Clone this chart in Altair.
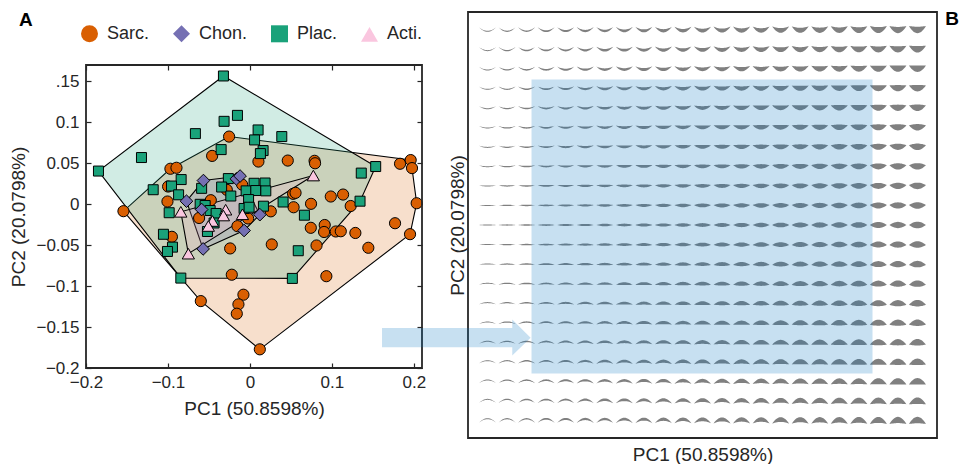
import altair as alt
import pandas as pd

FONT = "Liberation Sans"
INK = "#262626"

# ---------------- Panel A data ----------------
GROUPS = ["Sarc.", "Chon.", "Plac.", "Acti."]
FILLS = ["#d95f02", "#7570b3", "#1aa27a", "#fac6df"]
SHAPES = ["circle", "diamond", "square", "triangle-up"]
MARK_SIZE = {"Sarc.": 125, "Chon.": 160, "Plac.": 100, "Acti.": 150}

SARC_PC1 = [-0.0254, -0.0461, -0.0970, -0.0896, 0.0104, 0.0462, 0.0789, 0.0795, 0.1832, 0.1962,
            0.1978, -0.1543, -0.0998, -0.1006, -0.0477, -0.0282, -0.0095, -0.0620, -0.0152, -0.0022,
            0.0255, 0.0527, 0.0557, 0.0987, 0.1137, 0.0533, 0.0746, 0.1230, 0.2035, 0.1771,
            0.1954, 0.0743, 0.0913, 0.0905, 0.1048, 0.1109, 0.1287, 0.0267, 0.0813, 0.1445,
            -0.0241, -0.0952, -0.0221, 0.0933, -0.0599, -0.0079, -0.0140, -0.0160, 0.0121]
SARC_PC2 = [0.0826, 0.0590, 0.0433, 0.0445, 0.0521, 0.0533, 0.0530, 0.0500, 0.0494, 0.0539,
            0.0441, -0.0085, 0.0216, 0.0033, 0.0049, 0.0176, 0.0240, -0.0168, -0.0268, -0.0174,
            -0.0087, 0.0127, 0.0139, 0.0094, 0.0118, -0.0037, 0.0005, -0.0022, 0.0012, -0.0232,
            -0.0366, -0.0288, -0.0254, -0.0339, -0.0333, -0.0330, -0.0351, -0.0491, -0.0504, -0.0532,
            -0.0540, -0.0398, -0.0861, -0.0879, -0.1183, -0.1105, -0.1223, -0.1337, -0.1772]

PLAC_PC1 = [-0.0323, -0.0152, -0.0315, -0.0665, 0.0100, 0.0057, 0.0389, -0.1323, -0.0351, 0.0161,
            0.0128, -0.1848, 0.1535, 0.1359, -0.0839, -0.0957, -0.1180, -0.0870, -0.0589, -0.0263,
            -0.0345, -0.0233, 0.0051, 0.0185, -0.0046, 0.0072, 0.0194, -0.0016, 0.0405, 0.0165,
            0.0665, 0.1344, -0.0985, -0.0607, -0.0546, -0.0485, -0.0412, -0.0437, -0.0518, -0.0071,
            -0.0010, -0.1055, -0.0945, -0.1006, 0.0590, -0.0843, 0.0518]
PLAC_PC2 = [0.1566, 0.1085, 0.1012, 0.0862, 0.0907, 0.0785, 0.0826, 0.0570, 0.0667, 0.0655,
            0.0618, 0.0405, 0.0460, 0.0380, 0.0301, 0.0222, 0.0177, 0.0115, 0.0194, 0.0313,
            0.0210, 0.0100, 0.0256, 0.0259, 0.0163, 0.0167, 0.0163, 0.0057, 0.0027, -0.0024,
            -0.0134, 0.0037, -0.0104, -0.0001, -0.0016, -0.0077, -0.0113, -0.0229, -0.0333, -0.0052,
            -0.0037, -0.0367, -0.0524, -0.0577, -0.0568, -0.0902, -0.0906]

CHON_PC1 = [-0.0567, -0.0165, -0.0120, -0.0774, -0.0589, 0.0121, -0.0071, -0.0571]
CHON_PC2 = [0.0289, 0.0310, 0.0344, 0.0037, -0.0065, -0.0128, -0.0321, -0.0546]

ACTI_PC1 = [0.0774, -0.0843, -0.0296, -0.0323, -0.0457, -0.0507, -0.0091, -0.0751]
ACTI_PC2 = [0.0350, -0.0093, -0.0067, -0.0138, -0.0205, -0.0266, -0.0123, -0.0604]

A_PC1_RANGE = [-0.2, 0.21]
A_PC2_RANGE = [-0.2, 0.17]
X_TICKS = [-0.2, -0.1, 0, 0.1, 0.2]
Y_TICKS = [-0.2, -0.15, -0.1, -0.05, 0, 0.05, 0.1, 0.15]

# ---------------- Panel B data ----------------
PC1_GRID = [-0.22, -0.20, -0.18, -0.16, -0.14, -0.12, -0.10, -0.08, -0.06, -0.04, -0.02, 0.0,
            0.02, 0.04, 0.06, 0.08, 0.10, 0.12, 0.14, 0.16, 0.18, 0.20, 0.22]
PC2_GRID = [0.20, 0.18, 0.16, 0.14, 0.12, 0.10, 0.08, 0.06, 0.04, 0.02, 0.0,
            -0.02, -0.04, -0.06, -0.08, -0.10, -0.12, -0.14, -0.16, -0.18, -0.20]
B_PC1_RANGE = [-0.24, 0.24]
B_PC2_RANGE = [-0.218, 0.218]
DATA_BOX_PC1 = [-0.175, 0.174]
DATA_BOX_PC2 = [-0.152, 0.149]
ARROW_PC1 = [-0.328, -0.1947, -0.1947, -0.1759, -0.1947, -0.1947, -0.328]
ARROW_PC2 = [-0.1055, -0.1055, -0.0966, -0.1153, -0.1335, -0.125, -0.125]

# ---------------- build tables ----------------
series = [("Sarc.", SARC_PC1, SARC_PC2), ("Plac.", PLAC_PC1, PLAC_PC2),
          ("Chon.", CHON_PC1, CHON_PC2), ("Acti.", ACTI_PC1, ACTI_PC2)]
rows = []
for g, xs_, ys_ in series:
    for a, b in zip(xs_, ys_):
        rows.append({"grp": g, "pc1": a, "pc2": b, "sz": MARK_SIZE[g]})
points_df = pd.DataFrame(rows)


def convex_hull(pts):
    pts = sorted(set(pts))
    if len(pts) <= 2:
        return pts

    def cross(o, a, b):
        return (a[0] - o[0]) * (b[1] - o[1]) - (a[1] - o[1]) * (b[0] - o[0])
    lower, upper = [], []
    for p in pts:
        while len(lower) >= 2 and cross(lower[-2], lower[-1], p) <= 0:
            lower.pop()
        lower.append(p)
    for p in reversed(pts):
        while len(upper) >= 2 and cross(upper[-2], upper[-1], p) <= 0:
            upper.pop()
        upper.append(p)
    return lower[:-1] + upper[:-1]


hull_rows = []
for g, xs_, ys_ in series:
    for k, (a, b) in enumerate(convex_hull(list(zip(xs_, ys_)))):
        hull_rows.append({"grp": g, "k": k, "x": a, "y": b})
hull_df = pd.DataFrame(hull_rows)


def crescent_path(pc1, pc2, n=14):
    half = 8.5
    c = (4.0 * pc2 / 0.2) / half
    t = (1.0 + 5.5 * (pc1 + 0.22) / 0.44) / half
    xs_ = [-1 + 2 * k / n for k in range(n + 1)]
    top = [(x, (c - t / 2) * (1 - x * x)) for x in xs_]
    bot = [(x, (c + t / 2) * (1 - x * x)) for x in reversed(xs_)]
    pts = top + bot
    yv = [p[1] for p in pts]
    mid = (min(yv) + max(yv)) / 2
    return "M" + " L".join(f"{x:.3f},{y - mid:.3f}" for x, y in pts) + " Z"


grid_df = pd.DataFrame([{"pc1": a, "pc2": b, "path": crescent_path(a, b)}
                        for b in PC2_GRID for a in PC1_GRID])
box_df = pd.DataFrame([{"x0": DATA_BOX_PC1[0], "x1": DATA_BOX_PC1[1],
                        "y0": DATA_BOX_PC2[0], "y1": DATA_BOX_PC2[1]}])
arrow_df = pd.DataFrame({"x": ARROW_PC1, "y": ARROW_PC2, "k": list(range(len(ARROW_PC1)))})
frameA_df = pd.DataFrame([{"x0": A_PC1_RANGE[0], "x1": A_PC1_RANGE[1],
                           "y0": A_PC2_RANGE[0], "y1": A_PC2_RANGE[1]}])
frameB_df = pd.DataFrame([{"x0": B_PC1_RANGE[0], "x1": B_PC1_RANGE[1],
                           "y0": B_PC2_RANGE[0], "y1": B_PC2_RANGE[1]}])

NO_VIEW = alt.ViewBackground(stroke="transparent", strokeWidth=0)

# ---------------- Panel A ----------------
A_W, A_H, A_TOP = 336, 356, 53     # plot frame occupies y in [A_TOP, A_H] of the view
xsA = alt.Scale(domain=A_PC1_RANGE, nice=False, zero=False)
ysA = alt.Scale(domain=A_PC2_RANGE, range=[A_H, A_TOP], nice=False, zero=False)


def axis_opts(**kw):
    d = dict(offset=-5, tickSize=5, domain=False, grid=False, tickColor=INK, tickWidth=1.2,
             labelFont=FONT, labelFontSize=17, labelColor=INK, labelFlush=False,
             labelOverlap=False, titleFont=FONT, titleFontSize=19, titleColor=INK,
             titleFontWeight="normal")
    d.update(kw)
    return alt.Axis(**d)


ax_bottom = axis_opts(orient="bottom", values=X_TICKS, labelExpr="format(datum.value, '~g')",
                      labelPadding=6, title="PC1 (50.8598%)", titlePadding=9)
ax_left = axis_opts(orient="left", values=Y_TICKS,
                    labelExpr="datum.value == 0.15 ? '.15' : format(datum.value, '~g')",
                    labelPadding=7, title="PC2 (20.0798%)", titlePadding=7)
ax_top = axis_opts(orient="top", values=X_TICKS, labels=False, title=None, offset=-(A_TOP + 5))
ax_right = axis_opts(orient="right", values=Y_TICKS, labels=False, title=None)

hull_fill = {"Sarc.": "#d95f02", "Plac.": "#1b9e77", "Chon.": "#7570b3", "Acti.": "#f7a8cf"}


def hull_layer(g):
    return alt.Chart(hull_df).transform_filter(alt.datum.grp == g).mark_line(
        fill=hull_fill[g], fillOpacity=0.2, stroke="black", strokeWidth=1.1,
        interpolate="linear-closed").encode(
        x=alt.X("x:Q", scale=xsA, axis=None),
        y=alt.Y("y:Q", scale=ysA, axis=None),
        order=alt.Order("k:Q"))


legend = alt.Legend(title=None, orient="none", legendX=-6, legendY=12, direction="horizontal",
                    labelFont=FONT, labelFontSize=18, labelColor=INK, symbolSize=289,
                    symbolStrokeColor="black", symbolStrokeWidth=1.2, labelOffset=8,
                    columnPadding=20, padding=0)

pts = alt.Chart(points_df).mark_point(filled=True, stroke="black", strokeWidth=1, opacity=1).encode(
    x=alt.X("pc1:Q", scale=xsA, axis=ax_bottom),
    y=alt.Y("pc2:Q", scale=ysA, axis=ax_left),
    fill=alt.Fill("grp:N", scale=alt.Scale(domain=GROUPS, range=FILLS), legend=legend),
    shape=alt.Shape("grp:N", scale=alt.Scale(domain=GROUPS, range=SHAPES), legend=legend),
    size=alt.Size("sz:Q", scale=None),
)

mirror = alt.Chart(points_df).mark_point(opacity=0).encode(
    x=alt.X("pc1:Q", scale=xsA, axis=ax_top),
    y=alt.Y("pc2:Q", scale=ysA, axis=ax_right),
)

frameA = alt.Chart(frameA_df).mark_rect(filled=False, stroke=INK, strokeWidth=1.8).encode(
    x=alt.X("x0:Q", scale=xsA, axis=None), x2="x1:Q",
    y=alt.Y("y0:Q", scale=ysA, axis=None), y2="y1:Q")

panelA = alt.layer(
    hull_layer("Sarc."), hull_layer("Plac."), hull_layer("Chon."), hull_layer("Acti."),
    pts, mirror, frameA
).resolve_axis(x="independent", y="independent").properties(
    width=A_W, height=A_H, view=NO_VIEW,
    title=alt.Title("A", anchor="start", frame="group", dx=-67, dy=22, fontSize=19,
                    fontWeight="bold", font=FONT, color="black"))

# ---------------- Panel B ----------------
xsB = alt.Scale(domain=B_PC1_RANGE, nice=False, zero=False)
ysB = alt.Scale(domain=B_PC2_RANGE, nice=False, zero=False)
axB = dict(labels=False, ticks=False, domain=False, grid=False, titleFont=FONT,
           titleFontSize=19, titleColor=INK, titleFontWeight="normal")
axBx = alt.Axis(title="PC1 (50.8598%)", titlePadding=7, **axB)
axBy = alt.Axis(title="PC2 (20.0798%)", titlePadding=1, **axB)

glyphs = alt.Chart(grid_df).mark_point(filled=True, fill="#808080", strokeWidth=0,
                                       size=289, opacity=1).encode(
    x=alt.X("pc1:Q", scale=xsB, axis=axBx),
    y=alt.Y("pc2:Q", scale=ysB, axis=axBy),
    shape=alt.Shape("path:N", scale=None),
)
frameB = alt.Chart(frameB_df).mark_rect(filled=False, stroke=INK, strokeWidth=1.8).encode(
    x=alt.X("x0:Q", scale=xsB, axis=axBx), x2="x1:Q",
    y=alt.Y("y0:Q", scale=ysB, axis=axBy), y2="y1:Q")
box = alt.Chart(box_df).mark_rect(fill="#0072bd", opacity=0.22).encode(
    x=alt.X("x0:Q", scale=xsB, axis=axBx), x2="x1:Q",
    y=alt.Y("y0:Q", scale=ysB, axis=axBy), y2="y1:Q")
arrow = alt.Chart(arrow_df).mark_line(fill="#0072bd", fillOpacity=0.22, strokeWidth=0,
                                      strokeOpacity=0, interpolate="linear-closed").encode(
    x=alt.X("x:Q", scale=xsB, axis=axBx),
    y=alt.Y("y:Q", scale=ysB, axis=axBy),
    order=alt.Order("k:Q"))

panelB = alt.layer(glyphs, frameB, box, arrow).properties(
    width=469, height=426, view=NO_VIEW,
    title=alt.Title("B", anchor="end", frame="group", dx=22, dy=22, fontSize=19,
                    fontWeight="bold", font=FONT, color="black"))

chart = alt.hconcat(panelA, panelB, spacing=-44).properties(
    padding={"left": 1, "top": 2, "right": 0, "bottom": 0}, background="white"
).configure_view(stroke="transparent", strokeWidth=0)

chart.save("out.html", embed_options={"renderer": "svg", "actions": False})
